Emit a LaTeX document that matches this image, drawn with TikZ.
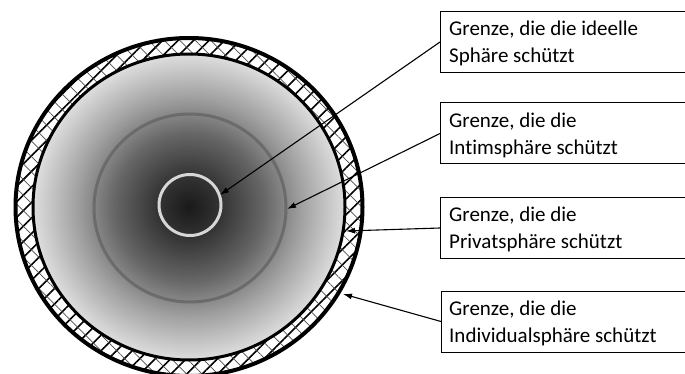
\documentclass[tikz,border=0pt]{standalone}
\usepackage{fontspec}
\setmainfont{Carlito}[Ligatures=NoCommon]
\usetikzlibrary{patterns.meta,arrows.meta,calc}
\definecolor{sc0}{gray}{0.10}
\definecolor{sc1}{gray}{0.20}
\definecolor{sc2}{gray}{0.40}
\definecolor{sc3}{gray}{0.63}
\definecolor{sc4}{gray}{0.87}
\pgfdeclareradialshading{sphereshade}{\pgfpoint{0bp}{0bp}}{color(0bp)=(sc0); color(5bp)=(sc1); color(12bp)=(sc2); color(18bp)=(sc3); color(25bp)=(sc4); color(50bp)=(sc4)}
\definecolor{ringgray}{HTML}{6B6B6B}
\definecolor{coregray}{HTML}{D6D6D6}
\tikzset{
  box/.style={draw=black, line width=1pt, anchor=north west, minimum width=280pt, minimum height=61pt, inner sep=0pt},
  txt/.style={anchor=north west, inner sep=0pt, align=left, font=\fontsize{21pt}{27pt}\selectfont},
  pointer/.style={draw=black, line width=1.1pt, -{Latex[length=9pt,width=6pt]}}
}
\begin{document}
\begin{tikzpicture}[x=1pt,y=-1pt]
\useasboundingbox (0,0) rectangle (685,374);
\clip (0,0) rectangle (685,374);
\fill[white] (0,0) rectangle (685,374);
% hatched ring
\fill[white, even odd rule] (189,207) ellipse[x radius=173.5, y radius=169] (189,207) ellipse[x radius=156, y radius=153];
\fill[pattern={Lines[angle=45,distance=11pt,line width=1.6pt]}, even odd rule] (189,207) ellipse[x radius=173.5, y radius=169] (189,207) ellipse[x radius=156, y radius=153];
\fill[pattern={Lines[angle=-45,distance=11pt,line width=0.7pt]}, pattern color=black!70, even odd rule] (189,207) ellipse[x radius=173.5, y radius=169] (189,207) ellipse[x radius=156, y radius=153];
% shaded interior
\shade[shading=sphereshade] (189,207) ellipse[x radius=156, y radius=153];
\draw[line width=4pt] (189,207) ellipse[x radius=173.5, y radius=169];
\draw[line width=3pt] (189,207) ellipse[x radius=156, y radius=153];
\draw[ringgray, line width=3pt] (190,208) ellipse[x radius=96, y radius=94];
\draw[coregray, line width=3pt] (190,205) ellipse[x radius=31, y radius=30.5];
% boxes
\node[box] (b1) at (440,11) {};
\node[box] (b2) at (440,102.5) {};
\node[box] (b3) at (440,197) {};
\node[box] (b4) at (441,290.5) {};
\node[txt] (t1) at (449,21) {Grenze, die die ideelle\\Sphäre schützt};
\node[txt] (t2) at (449,113) {Grenze, die die\\Intimsphäre schützt};
\node[txt] (t3) at (449,207) {Grenze, die die\\Privatsphäre schützt};
\node[txt] (t4) at (449,300.5) {Grenze, die die\\Individualsphäre schützt};
% targets
\coordinate (p1) at (220,195);
\coordinate (p2) at (287,209);
\coordinate (p3) at (346,231);
\coordinate (p4) at (343,294);
\draw[pointer] (b1.west) -- (p1);
\draw[pointer] (b2.west) -- (p2);
\draw[pointer] (b3.west) -- (p3);
\draw[pointer] (b4.west) -- (p4);
\end{tikzpicture}
\end{document}
